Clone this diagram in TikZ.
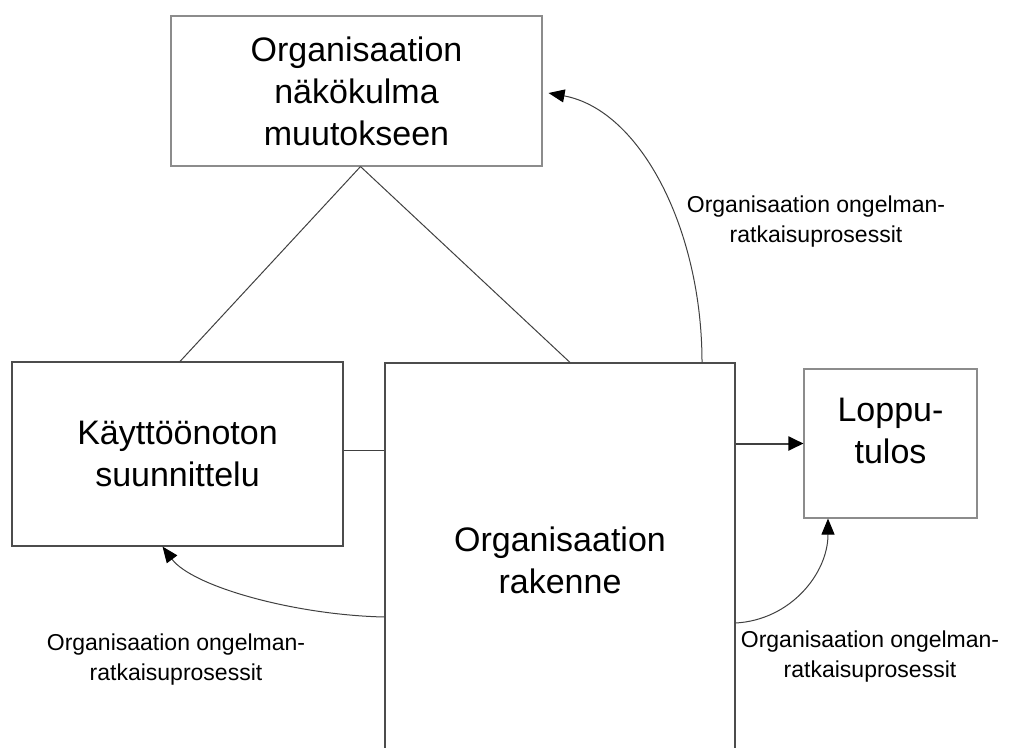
\documentclass[tikz,border=0pt]{standalone}
\usepackage{fontspec}
\setmainfont{Liberation Sans}
\usetikzlibrary{arrows.meta}
\begin{document}
\begin{tikzpicture}[x=1pt,y=-1pt,
  box/.style={draw=black!70, line width=1.1pt, fill=white, inner sep=0pt, align=center, font=\fontsize{34}{42}\selectfont},
  lbl/.style={align=center, inner sep=0pt, font=\fontsize{23}{30}\selectfont},
  link/.style={draw=black!75, line width=1pt},
  arrthin/.style={draw=black!75, line width=1pt, -{Triangle[length=16pt,width=13pt,color=black]}},
  arrthick/.style={draw=black!75, line width=2pt, -{Triangle[length=15pt,width=14pt,color=black]}},
]
\useasboundingbox (0,0) rectangle (1011,747);
\node[box, draw=black!45, minimum width=371pt, minimum height=150pt] (top) at (356.5,91) {Organisaation\\näkökulma\\muutokseen};
\node[box, minimum width=331pt, minimum height=184pt] (left) at (177.5,454) {Käyttöönoton\\suunnittelu};
\node[box, minimum width=350pt, minimum height=394pt] (mid) at (560,560) {Organisaation\\rakenne};
\node[box, draw=black!45, minimum width=173pt, minimum height=149pt] (res) at (890.5,443.5) {\raisebox{9pt}[\height][\depth]{\begin{tabular}{@{}c@{}}Loppu-\\tulos\end{tabular}}};

\draw[link] ([xshift=4pt]top.south) -- ([xshift=2.5pt]left.north);
\draw[link] ([xshift=4pt]top.south) -- ([xshift=10pt]mid.north);
\draw[link] ([yshift=4pt]left.east) -- ([yshift=4pt]left.east -| mid.west);
\draw[arrthick] (mid.east |- res.west) -- (res.west);

\draw[arrthin] ([xshift=142pt]mid.north) .. controls +(0,-133) and +(92,17) .. ([xshift=6pt,yshift=-2pt]top.east);
\draw[arrthin] ([yshift=-57pt]mid.west) .. controls +(-90,-2) and +(30,40) .. ([xshift=-15pt]left.south);
\draw[arrthin] ([yshift=-63pt]mid.east) .. controls +(55,-3) and +(0,55) .. ([xshift=-62.5pt]res.south);

\node[lbl] (l1) at (816,222) {Organisaation ongelman-\\ratkaisuprosessit};
\node[lbl] (l2) at (176,660) {Organisaation ongelman-\\ratkaisuprosessit};
\node[lbl] (l3) at (870,657) {Organisaation ongelman-\\ratkaisuprosessit};
\end{tikzpicture}
\end{document}
